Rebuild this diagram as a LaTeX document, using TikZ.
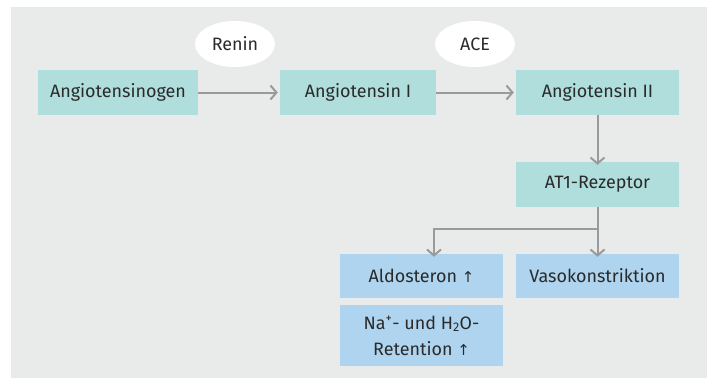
\documentclass[tikz,border=0pt]{standalone}
\usepackage{fontspec}
\setmainfont{Fira Sans}
\newfontfamily\symfont{DejaVu Sans}
\usetikzlibrary{arrows.meta,shapes.geometric}
\definecolor{panel}{HTML}{E9EBEA}
\definecolor{teal}{HTML}{B0DEDC}
\definecolor{lblue}{HTML}{AED4EF}
\definecolor{linec}{HTML}{9A9A9A}
\definecolor{txt}{HTML}{2A2A2A}
\newcommand{\upar}{{\symfont\fontsize{15}{18}\selectfont ↑}}
\begin{document}
\begin{tikzpicture}[x=1bp,y=-1bp,
  every node/.style={text=txt,font=\fontsize{18}{26}\selectfont,inner sep=0pt},
  tealbox/.style={fill=teal,minimum height=45bp},
  bluebox/.style={fill=lblue,minimum height=44bp,minimum width=163bp,align=center},
  enz/.style={ellipse,fill=white,minimum width=80bp,minimum height=46bp},
  conn/.style={draw=linec,line width=2bp},
  arr/.style={conn,-{Straight Barb[length=6bp,width=14bp,line width=2bp]}}
]
\useasboundingbox (0,0) rectangle (712,378);
\fill[panel] (11,7) rectangle (707,378);
\node[tealbox,minimum width=160bp] (ago) at (118,92.5) {Angiotensinogen};
\node[tealbox,minimum width=156bp] (a1) at (358,92.5) {Angiotensin I};
\node[tealbox,minimum width=163bp] (a2) at (597.5,92.5) {Angiotensin II};
\node[enz] (renin) at (235,44) {Renin};
\node[enz] (ace) at (475,44) {ACE};
\node[tealbox,minimum width=163bp] (at1) at (597.5,184.5) {AT1-Rezeptor};
\node[bluebox] (aldo) at (421.5,276) {Aldosteron \upar};
\node[bluebox] (vaso) at (597.5,276) {Vasokonstriktion};
\node[bluebox,minimum height=61bp] (na) at (421.5,335.5) {Na\textsuperscript{+}- und H\textsubscript{2}O-\\Retention \upar};
\coordinate (branch) at (597.5,229);
\coordinate (b2) at (434,229);
\draw[arr] (ago.east) -- ([xshift=-2bp]a1.west);
\draw[arr] (a1.east) -- ([xshift=-2bp]a2.west);
\draw[arr] (a2.south) -- ([yshift=-3bp]at1.north);
\draw[arr] (at1.south) -- ([yshift=-3bp]vaso.north);
\draw[arr] (branch) -- (b2) -- ([yshift=-3bp]b2 |- aldo.north);
\end{tikzpicture}
\end{document}
